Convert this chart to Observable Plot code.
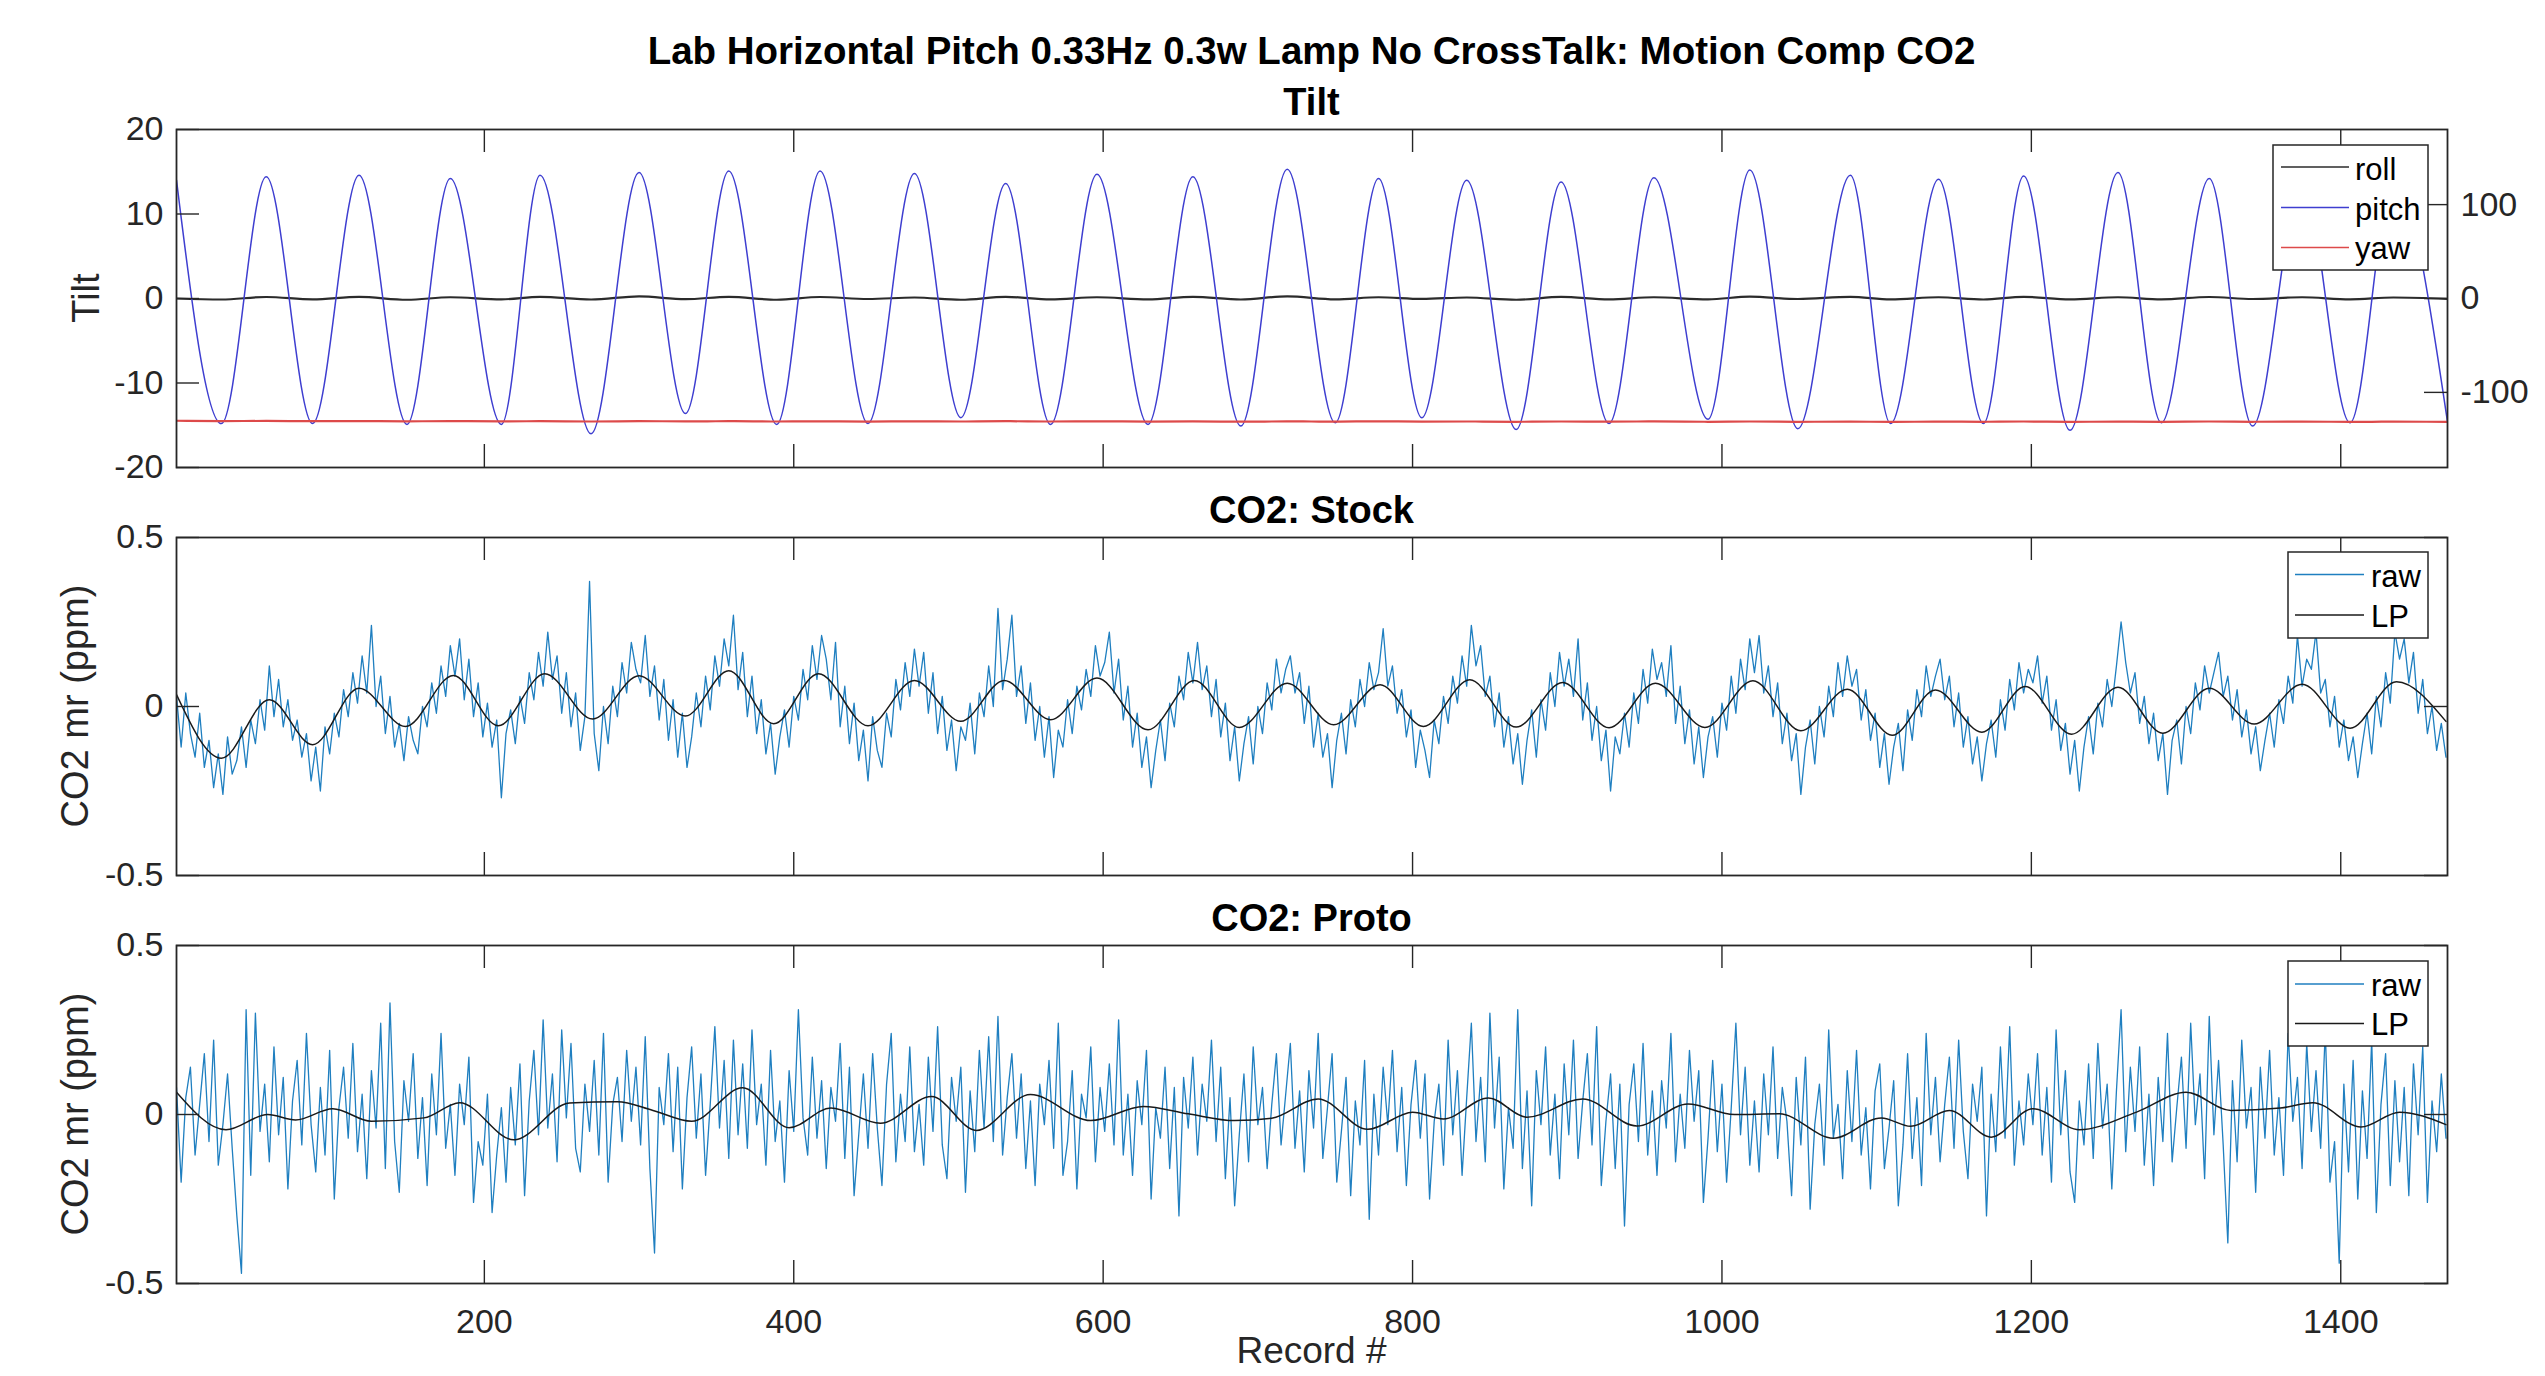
<!DOCTYPE html>
<html>
<head>
<meta charset="utf-8">
<script src="https://cdn.jsdelivr.net/npm/d3@7"></script>
<script src="https://cdn.jsdelivr.net/npm/@observablehq/plot@0.6"></script>
<style>
html, body { margin: 0; padding: 0; background: #fff; overflow: hidden; }
#fig { position: relative; width: 2545px; height: 1376px; overflow: hidden; background: #fff; }
#fig > svg { position: absolute; left: 0; }
</style>
</head>
<body>
<div id="fig"></div>
<script>
// ---------------- DATA ----------------
// Tilt panel: records of the pitch extrema, with roll, pitch (deg, left axis) and yaw (deg, right axis)
const tiltRecord = [1,30,59,89,119,150,178,211,236,269,300,330,358,389,417,448,478,508,537,566,596,629,658,689,719,750,778,806,835,867,896,927,956,991,1018,1049,1083,1109,1140,1169,1195,1225,1256,1284,1315,1343,1375,1406,1434,1469];
const pitch = [14.0,-14.8,14.4,-14.8,14.6,-14.9,14.2,-14.9,14.6,-16.0,14.9,-13.6,15.1,-14.9,15.1,-14.8,14.8,-14.1,13.6,-14.9,14.7,-14.9,14.4,-15.1,15.3,-14.7,14.2,-14.1,14.0,-15.5,13.8,-14.8,14.3,-14.3,15.2,-15.4,14.6,-14.8,14.1,-14.8,14.5,-15.6,14.9,-14.7,14.2,-15.1,14.0,-14.7,14.2,-14.6];
const roll = [0.0,-0.12,0.18,-0.1,0.2,-0.15,0.15,-0.1,0.2,-0.12,0.25,-0.08,0.2,-0.15,0.18,-0.06,0.12,-0.15,0.2,-0.1,0.15,-0.1,0.2,-0.12,0.25,-0.1,0.15,-0.05,0.12,-0.15,0.2,-0.1,0.15,-0.1,0.22,-0.06,0.2,-0.1,0.15,-0.12,0.2,-0.1,0.15,-0.1,0.18,-0.06,0.15,-0.1,0.12,-0.05];
const yaw = [-130.2,-130.6,-130.4,-130.7,-130.5,-130.8,-130.6,-130.9,-130.7,-131.0,-130.6,-130.9,-130.7,-131.0,-130.8,-131.1,-130.8,-131.0,-130.7,-131.0,-130.8,-131.1,-130.9,-131.2,-130.9,-131.1,-130.8,-131.2,-131.0,-131.3,-131.0,-131.2,-130.9,-131.3,-131.0,-131.3,-131.1,-131.4,-131.1,-131.3,-131.0,-131.4,-131.1,-131.3,-131.0,-131.3,-131.1,-131.4,-131.2,-131.4];

// CO2 Stock low-pass: records and values (ppm)
const stockLPRecord = [1,30,61,89,119,149,180,209,239,270,300,330,358,387,416,448,478,508,536,566,596,629,659,688,719,749,779,807,837,867,897,927,957,989,1020,1051,1081,1110,1138,1168,1196,1226,1256,1285,1315,1344,1375,1406,1436,1468];
const stockLP = [0.035,-0.153,0.02,-0.113,0.054,-0.059,0.092,-0.057,0.097,-0.037,0.091,-0.028,0.106,-0.051,0.097,-0.057,0.077,-0.044,0.077,-0.039,0.084,-0.069,0.077,-0.062,0.069,-0.054,0.064,-0.059,0.079,-0.061,0.071,-0.063,0.069,-0.062,0.076,-0.072,0.051,-0.085,0.049,-0.076,0.059,-0.082,0.057,-0.079,0.054,-0.052,0.066,-0.064,0.073,-0.044];

// CO2 Proto low-pass: records and values (ppm)
const protoLPRecord = [1,33,60,78,102,127,161,184,219,255,286,309,334,367,397,424,456,489,518,553,592,626,655,685,709,739,771,800,820,849,874,910,945,978,1008,1037,1072,1103,1122,1147,1174,1201,1231,1268,1300,1329,1361,1382,1413,1438,1468];
const protoLP = [0.066,-0.045,0,-0.016,0.017,-0.02,-0.01,0.035,-0.075,0.034,0.038,0.012,-0.02,0.079,-0.039,0.019,-0.026,0.053,-0.047,0.059,-0.018,0.024,0.002,-0.018,-0.011,0.046,-0.044,0.007,-0.013,0.049,-0.008,0.046,-0.034,0.031,0,0.002,-0.07,-0.01,-0.035,0.012,-0.067,0.017,-0.045,0.007,0.066,0.012,0.019,0.035,-0.037,0.007,-0.03];

// Raw CO2 traces, estimated every third record (1, 4, 7, ... 1468), in hundredths of a ppm
const rawRecord = d3.range(1, 1469, 3);
const stockRawCenti = [
 3,-12,4,-8,-15,-2,-18,-10,-24,-14,-26,-9,-20,-16,-6,-18,-4,-11,2,-7,
 12,-3,8,-6,2,-10,-4,-15,-8,-22,-12,-25,-6,-14,-2,-9,5,-3,10,1,
 15,4,24,0,9,-8,3,-12,-5,-16,-3,-10,-14,0,-6,7,-2,12,3,18,
 9,20,2,14,-3,7,-9,1,-12,-4,-27,-8,-1,-11,3,-5,10,2,16,6,
 22,8,15,-2,10,-6,4,-13,-3,37,-8,-19,0,-11,6,-3,13,4,19,11,
 7,21,3,12,-4,8,-10,2,-15,-2,-18,-9,4,-6,9,-1,15,6,20,12,
 27,5,16,-3,9,-8,2,-14,-5,-20,-9,-1,-12,3,-4,11,2,18,8,21,
 14,2,19,-6,6,-11,1,-16,-7,-22,-3,-13,-18,-2,-9,8,-1,13,3,17,
 6,16,-2,10,-8,3,-13,-4,-19,-6,-10,1,-14,4,-3,12,0,29,5,14,
 27,3,12,-5,7,-10,0,-15,-3,-21,-7,-12,2,-8,6,-1,11,3,18,9,
 13,22,4,14,-4,6,-12,-2,-18,-9,-24,-13,-4,-16,1,-6,9,2,16,7,
 19,5,12,-3,8,-9,1,-16,-6,-22,-11,-3,-17,0,-8,7,-1,14,4,11,
 15,4,10,-5,6,-12,-2,-15,-8,-24,-10,-2,-14,2,-6,8,0,13,5,10,
 23,6,12,-2,5,-9,-1,-18,-7,-13,-21,-4,-11,3,-5,9,1,15,6,24,
 12,18,3,9,-6,4,-12,-3,-17,-8,-23,-10,-1,-15,2,-7,10,0,16,6,
 14,3,20,-4,7,-10,0,-16,-7,-25,-9,-14,-2,-12,4,-5,11,1,17,8,
 13,3,18,-5,6,-11,-1,-17,-6,-21,-9,-3,-15,1,-7,9,-2,14,5,20,
 10,21,4,12,-3,7,-11,-2,-16,-8,-26,-12,-4,-17,0,-9,6,-3,13,3,
 15,6,11,-4,5,-10,-2,-18,-8,-23,-12,-5,-19,-1,-10,5,-3,12,3,9,
 14,2,9,-6,4,-12,-3,-17,-9,-22,-11,-4,-15,2,-7,8,-1,13,4,11,
 7,15,1,9,-7,2,-13,-5,-20,-10,-25,-12,-3,-14,1,-6,8,0,12,25,
 13,4,10,-5,3,-11,-2,-16,-8,-26,-10,-4,-17,0,-8,7,-1,12,4,10,
 16,3,9,-4,5,-9,-1,-14,-6,-19,-10,-2,-12,2,-5,9,1,21,6,14,
 11,22,4,8,-6,3,-12,-4,-16,-9,-21,-11,-2,-14,3,-6,10,1,22,14,
 20,7,16,-2,8,-8,0,-13,-5,-15
];
const protoRawCenti = [
 8,-20,5,14,-12,3,18,-8,22,-15,-3,12,-10,-30,-47,31,-18,30,-5,9,
 -14,20,-6,11,-22,4,16,-9,24,-3,-17,8,-12,19,-25,2,14,-7,21,-11,
 6,-19,13,-4,27,-16,33,-8,-23,10,-2,18,-13,5,-21,12,-6,24,-10,3,
 -18,9,-3,17,-26,-8,-15,6,-29,-12,2,-20,8,-9,15,-24,4,19,-6,28,
 -4,12,-14,25,-1,21,-10,-17,9,-5,16,-12,24,-20,3,11,-8,19,-2,14,
 -9,23,-16,-41,8,-3,18,-11,14,-22,5,20,-7,12,-18,3,26,-4,16,-13,
 22,-6,15,-10,25,-3,9,-15,19,-8,4,-20,13,-5,31,-1,-12,17,-7,10,
 -16,8,-2,21,-13,14,-24,-6,12,-10,18,-4,-21,9,24,-14,6,-8,20,-11,
 3,-15,17,-5,26,-9,-19,11,-2,14,-23,7,-11,19,-4,23,-8,29,-12,5,
 18,-7,12,-16,4,-21,9,-3,16,-10,27,-18,-8,13,-22,6,-1,20,-14,8,
 -5,15,-9,28,-12,6,-18,10,-3,19,-25,2,-7,14,-16,8,-30,11,-4,17,
 -12,9,-2,22,-8,14,-19,5,-27,-6,12,-14,20,-3,8,-16,3,18,-9,6,
 21,-10,7,-17,13,-4,24,-13,2,18,-20,-5,11,-24,4,-9,16,-31,6,-12,
 14,-3,19,-11,8,-21,3,16,-7,12,-25,-2,9,-15,22,-6,13,-18,5,27,
 -8,11,-14,30,-4,17,-22,2,-10,31,-16,7,-27,13,-3,20,-12,6,-19,15,
 -6,22,-13,4,18,-9,26,-21,-2,12,-16,9,-33,3,15,-8,21,-12,7,-18,
 10,-4,24,-14,6,-10,19,-2,13,-26,-7,16,-11,9,-20,2,27,-6,14,-15,
 4,-17,12,-6,20,-13,8,-2,-24,11,-9,17,-28,-3,9,-15,25,-7,3,-19,
 13,-8,19,-12,2,-22,7,15,-16,-4,10,-27,-9,18,-13,5,-21,24,-6,11,
 -14,3,17,-10,22,-5,-19,9,-2,14,-30,6,-11,20,-7,26,-15,4,-9,12,
 -3,18,-12,8,-20,25,-6,13,-17,-26,4,-9,15,-13,21,-4,9,-22,7,31,
 -11,14,-5,20,-15,6,-21,11,-8,24,-14,2,17,-10,27,-3,12,-19,29,-6,
 16,-9,-38,10,-14,22,-4,8,-23,14,-7,19,-12,5,-18,24,-2,11,-16,21,
 -5,13,-10,25,-20,-8,-44,9,-17,16,-25,7,-13,22,-29,3,18,-21,10,-14,
 8,-24,15,-6,20,-26,4,-11,12,-7
];

// Tick labels
const xTicks = [200, 400, 600, 800, 1000, 1200, 1400];
const tiltTicks = [-20, -10, 0, 10, 20];
const yawTicks = [-100, 0, 100];
const co2Ticks = [-0.5, 0, 0.5];

// Text
const mainTitle = "Lab Horizontal Pitch 0.33Hz 0.3w Lamp No CrossTalk: Motion Comp CO2";
const panelTitles = ["Tilt", "CO2: Stock", "CO2: Proto"];
const yLabels = ["Tilt", "CO2 mr (ppm)", "CO2 mr (ppm)"];
const xLabel = "Record #";
const tiltLegend = ["roll", "pitch", "yaw"];
const co2Legend = ["raw", "LP"];

// ---------------- STYLE / LAYOUT ----------------
const FONT = "'Liberation Sans', Arial, Helvetica, sans-serif";
const AX = "#262626";
const C_ROLL = "#2b2b2b", C_PITCH = "#3e3ed0", C_YAW = "#dd4a4a", C_RAW = "#1f7fc0", C_LP = "#1a1a1a";
const W = 2545, ML = 176, MR = 98, TICK = 23;
const xDomain = [1, 1469];
const yawToTilt = 20 / 180; // right axis spans ±180 where the left spans ±20

const fig = document.getElementById("fig");

function inwardTicks(yDomain, plotH, yLeft, yRight) {
  const [y0, y1] = yDomain;
  const ty = TICK * (y1 - y0) / plotH;
  const tx = TICK * (xDomain[1] - xDomain[0]) / (W - ML - MR);
  const s = {stroke: AX, strokeWidth: 1.4};
  return [
    Plot.ruleX(xTicks, {x: d => d, y1: y0, y2: y0 + ty, ...s}),
    Plot.ruleX(xTicks, {x: d => d, y1: y1 - ty, y2: y1, ...s}),
    Plot.ruleY(yLeft, {y: d => d, x1: xDomain[0], x2: xDomain[0] + tx, ...s}),
    Plot.ruleY(yRight, {y: d => d, x1: xDomain[1] - tx, x2: xDomain[1], ...s})
  ];
}

function makePanel({top, height, mt, mb, yDomain, yTicks, marks, showX}) {
  const plotH = height - mt - mb;
  const svg = Plot.plot({
    width: W, height, marginTop: mt, marginBottom: mb, marginLeft: ML, marginRight: MR,
    style: {fontFamily: FONT, fontSize: "34px", color: AX, background: "transparent", overflow: "visible"},
    x: showX
      ? {domain: xDomain, ticks: xTicks, tickSize: 0, tickPadding: 25, tickFormat: d => String(d), label: null}
      : {domain: xDomain, axis: null},
    y: {domain: yDomain, ticks: yTicks, tickSize: 0, tickPadding: 13, tickFormat: d => String(d), label: null},
    marks: [
      ...marks,
      ...inwardTicks(yDomain, plotH, yTicks, marks.rightTicks || []),
      Plot.frame({stroke: AX, strokeWidth: 1.8})
    ]
  });
  svg.style.top = top + "px";
  svg.style.maxWidth = "none";
  fig.appendChild(svg);
  return svg;
}

// ---- Top panel: Tilt ----
const tiltData = tiltRecord.map((r, i) => ({r, roll: roll[i], pitch: pitch[i], yaw: yaw[i]}));
const topMarks = [
  Plot.line(tiltData, {x: "r", y: "roll", curve: "monotone-x", stroke: C_ROLL, strokeWidth: 2.2, clip: true}),
  Plot.line(tiltData, {x: "r", y: "pitch", curve: "monotone-x", stroke: C_PITCH, strokeWidth: 1.5, clip: true}),
  Plot.line(tiltData, {x: "r", y: d => d.yaw * yawToTilt, curve: "monotone-x", stroke: C_YAW, strokeWidth: 2.2, clip: true}),
  Plot.text(yawTicks, {x: xDomain[1], y: d => d * yawToTilt, text: d => String(d), textAnchor: "start", dx: 13, fontSize: 34, fill: AX})
];
topMarks.rightTicks = yawTicks.map(d => d * yawToTilt);
makePanel({top: 0, height: 500, mt: 129, mb: 33, yDomain: [-20, 20], yTicks: tiltTicks, marks: topMarks, showX: false});

// ---- CO2 panels ----
function co2Marks(rawCenti, lpRecord, lp) {
  const raw = rawRecord.map((r, i) => ({r, v: rawCenti[i] / 100}));
  const lpd = lpRecord.map((r, i) => ({r, v: lp[i]}));
  const m = [
    Plot.line(raw, {x: "r", y: "v", stroke: C_RAW, strokeWidth: 1.3, clip: true}),
    Plot.line(lpd, {x: "r", y: "v", curve: "monotone-x", stroke: C_LP, strokeWidth: 1.5, clip: true})
  ];
  m.rightTicks = co2Ticks;
  return m;
}
makePanel({top: 500, height: 410, mt: 37, mb: 35, yDomain: [-0.5, 0.5], yTicks: co2Ticks,
  marks: co2Marks(stockRawCenti, stockLPRecord, stockLP), showX: false});
makePanel({top: 910, height: 466, mt: 35, mb: 93, yDomain: [-0.5, 0.5], yTicks: co2Ticks,
  marks: co2Marks(protoRawCenti, protoLPRecord, protoLP), showX: true});

// ---------------- Overlay: titles, labels, legends ----------------
const ov = d3.select(fig).append("svg")
  .attr("width", W).attr("height", 1376)
  .style("position", "absolute").style("top", "0px").style("left", "0px")
  .style("font-family", FONT);

const cx = (ML + (W - MR)) / 2;
ov.append("text").attr("x", cx).attr("y", 64).attr("text-anchor", "middle")
  .attr("font-size", 38.5).attr("font-weight", "bold").attr("fill", "#000").text(mainTitle);

const panelTop = [129, 537, 945], panelBot = [467, 875, 1283];
panelTitles.forEach((t, i) => {
  ov.append("text").attr("x", cx).attr("y", panelTop[i] - 14).attr("text-anchor", "middle")
    .attr("font-size", 38).attr("font-weight", "bold").attr("fill", "#000").text(t);
});
const yLabelX = [99, 88, 88];
yLabels.forEach((t, i) => {
  const cy = (panelTop[i] + panelBot[i]) / 2;
  ov.append("text").attr("transform", `translate(${yLabelX[i]},${cy}) rotate(-90)`)
    .attr("text-anchor", "middle").attr("font-size", 38).attr("fill", AX).text(t);
});
ov.append("text").attr("x", cx).attr("y", 1363).attr("text-anchor", "middle")
  .attr("font-size", 37).attr("fill", AX).text(xLabel);

function legend(box, items) {
  ov.append("rect").attr("x", box[0]).attr("y", box[1]).attr("width", box[2]).attr("height", box[3])
    .attr("fill", "#fff").attr("stroke", AX).attr("stroke-width", 1.5);
  items.forEach(it => {
    ov.append("line").attr("x1", it.x1).attr("x2", it.x2).attr("y1", it.ly).attr("y2", it.ly)
      .attr("stroke", it.color).attr("stroke-width", 1.5);
    ov.append("text").attr("x", it.tx).attr("y", it.ty).attr("font-size", 31).attr("fill", "#000").text(it.label);
  });
}
const tiltColors = [C_ROLL, C_PITCH, C_YAW];
legend([2273, 145, 155, 125], tiltLegend.map((l, i) => ({
  label: l, color: tiltColors[i], x1: 2281, x2: 2349, ly: [167, 207.5, 247.5][i], tx: 2355, ty: [180, 220, 259][i]
})));
const co2Colors = [C_RAW, C_LP];
legend([2288, 552, 140, 86], co2Legend.map((l, i) => ({
  label: l, color: co2Colors[i], x1: 2295, x2: 2364, ly: [574.5, 615][i], tx: 2371, ty: [587, 627][i]
})));
legend([2288, 961, 140, 85], co2Legend.map((l, i) => ({
  label: l, color: co2Colors[i], x1: 2295, x2: 2364, ly: [984, 1023.5][i], tx: 2371, ty: [996, 1035][i]
})));
</script>
</body>
</html>
